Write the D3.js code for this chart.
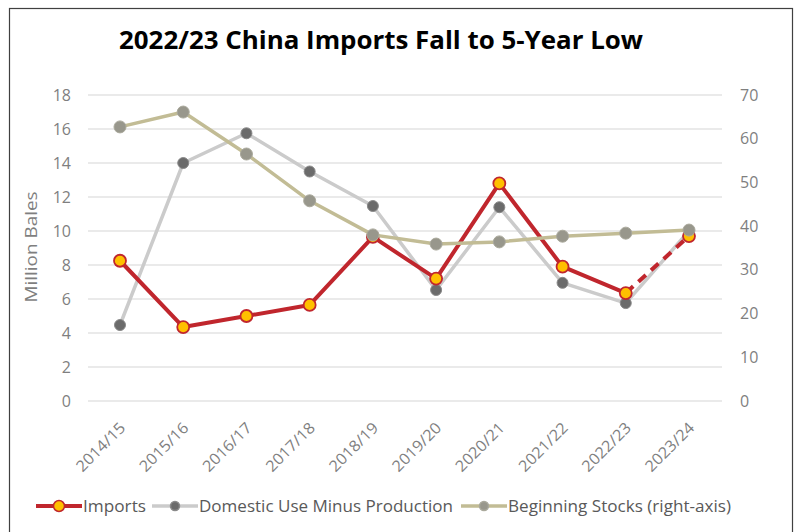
<!DOCTYPE html>
<html><head><meta charset="utf-8">
<script src="https://cdn.jsdelivr.net/npm/d3@7"></script>
<style>body{margin:0;background:#fff}svg{display:block}</style>
</head><body>
<svg id="c" width="801" height="532"></svg>
<script>
const categories = ["2014/15","2015/16","2016/17","2017/18","2018/19","2019/20","2020/21","2021/22","2022/23","2023/24"];
const imports = [8.25, 4.35, 5.0, 5.65, 9.65, 7.2, 12.8, 7.9, 6.35, 9.7];
const domesticMinusProd = [4.47, 14.0, 15.75, 13.5, 11.47, 6.53, 11.4, 6.95, 5.76, 10.0];
const beginningStocks = [62.7, 66.1, 56.5, 45.8, 38.0, 35.9, 36.4, 37.7, 38.4, 39.1];
const leftTicks = [0,2,4,6,8,10,12,14,16,18];
const rightTicks = [0,10,20,30,40,50,60,70];
const title = "2022/23 China Imports Fall to 5-Year Low";
const seriesNames = ["Imports","Domestic Use Minus Production","Beginning Stocks (right-axis)"];

const svg = d3.select("#c");
const font = "'Open Sans', 'Liberation Sans', sans-serif";
const grayText = "#7f7f7f";

// frame
svg.append("rect").attr("x",9.5).attr("y",8.5).attr("width",783).attr("height",540)
  .attr("fill","none").attr("stroke","#404040").attr("stroke-width",1.2);

const x = d3.scalePoint().domain(categories).range([120, 689]);
const yL = d3.scaleLinear().domain([0,18]).range([401, 95]);
const yR = d3.scaleLinear().domain([0,70]).range([401, 95]);

// grid
svg.append("g").selectAll("line").data(leftTicks).join("line")
  .attr("x1",88).attr("x2",722).attr("y1",d=>yL(d)).attr("y2",d=>yL(d))
  .attr("stroke","#e3e3e3").attr("stroke-width",1.5);

// left axis
const gL = svg.append("g").attr("transform","translate(71,0)")
  .call(d3.axisLeft(yL).tickValues(leftTicks).tickSize(0).tickPadding(0));
gL.select(".domain").remove();
gL.selectAll("text").attr("font-family",font).attr("font-size",16).attr("fill",grayText);

// right axis
const gR = svg.append("g").attr("transform","translate(740,0)")
  .call(d3.axisRight(yR).tickValues(rightTicks).tickSize(0).tickPadding(0));
gR.select(".domain").remove();
gR.selectAll("text").attr("font-family",font).attr("font-size",16).attr("fill",grayText);

// x axis (rotated labels placed from their start point)
const gX = svg.append("g").attr("transform","translate(0,400)")
  .call(d3.axisBottom(x).tickSize(0).tickPadding(0));
gX.select(".domain").remove();
const labLen = 62, c45 = Math.SQRT1_2;
gX.selectAll(".tick text").attr("font-family",font).attr("font-size",15.5).attr("fill",grayText)
  .attr("text-anchor","start").attr("x",0).attr("y",0).attr("dy","0.35em")
  .attr("textLength",labLen).attr("lengthAdjust","spacingAndGlyphs")
  .attr("transform",`translate(${(2 - labLen*c45).toFixed(2)},${(25 + labLen*c45).toFixed(2)}) rotate(-45)`);

// y title
svg.append("text").attr("transform","translate(31,247) rotate(-90)")
  .attr("text-anchor","middle").attr("dy","0.35em").attr("font-family",font).attr("font-size",17)
  .attr("fill",grayText).attr("textLength",111).attr("lengthAdjust","spacingAndGlyphs").text("Million Bales");

// title
svg.append("text").attr("x",381).attr("y",49).attr("text-anchor","middle")
  .attr("font-family",font).attr("font-weight","bold").attr("font-size",25)
  .attr("fill","#000").attr("textLength",524).attr("lengthAdjust","spacingAndGlyphs").text(title);

const lineL = d3.line().x((d,i)=>x(categories[i])).y(d=>yL(d));
const lineR = d3.line().x((d,i)=>x(categories[i])).y(d=>yR(d));

// domestic use minus production
svg.append("path").datum(domesticMinusProd).attr("d",lineL).attr("fill","none")
  .attr("stroke","#cbcbcb").attr("stroke-width",3.5).attr("stroke-linejoin","round");
svg.append("g").selectAll("circle").data(domesticMinusProd).join("circle")
  .attr("cx",(d,i)=>x(categories[i])).attr("cy",d=>yL(d)).attr("r",5.5)
  .attr("fill","#6b6b6b").attr("stroke","#8a8a8a").attr("stroke-width",1);

// imports: solid up to 2022/23, dashed to 2023/24
const solidImp = imports.slice(0,9);
svg.append("path").datum(solidImp).attr("d",lineL).attr("fill","none")
  .attr("stroke","#c0262d").attr("stroke-width",4).attr("stroke-linejoin","round");
const dashLine = d3.line().x(d=>x(categories[d])).y(d=>yL(imports[d]));
svg.append("path").datum([8,9]).attr("d",dashLine).attr("fill","none")
  .attr("stroke","#c0262d").attr("stroke-width",4).attr("stroke-dasharray","10,7");
svg.append("g").selectAll("circle").data(imports).join("circle")
  .attr("cx",(d,i)=>x(categories[i])).attr("cy",d=>yL(d)).attr("r",6)
  .attr("fill","#ffc000").attr("stroke","#c0262d").attr("stroke-width",1.8);

// beginning stocks
svg.append("path").datum(beginningStocks).attr("d",lineR).attr("fill","none")
  .attr("stroke","#c2bc95").attr("stroke-width",3.5).attr("stroke-linejoin","round");
svg.append("g").selectAll("circle").data(beginningStocks).join("circle")
  .attr("cx",(d,i)=>x(categories[i])).attr("cy",d=>yR(d)).attr("r",6)
  .attr("fill","#98978c").attr("stroke","#aaa99c").attr("stroke-width",1);

// legend
const leg = svg.append("g").attr("font-family",font).attr("font-size",17).attr("fill","#595959");
const legItems = [
  {x:36, name:seriesNames[0], len:63, line:"#c0262d", lw:4, fill:"#ffc000", stroke:"#c0262d", r:5.5},
  {x:152, name:seriesNames[1], len:254, line:"#cbcbcb", lw:3.5, fill:"#6b6b6b", stroke:"#8a8a8a", r:4.5},
  {x:461, name:seriesNames[2], len:223, line:"#c2bc95", lw:3.5, fill:"#98978c", stroke:"#aaa99c", r:4.5}
];
const legY = 506;
legItems.forEach(it=>{
  leg.append("line").attr("x1",it.x).attr("x2",it.x+46).attr("y1",legY).attr("y2",legY)
    .attr("stroke",it.line).attr("stroke-width",it.lw);
  leg.append("circle").attr("cx",it.x+23).attr("cy",legY).attr("r",it.r)
    .attr("fill",it.fill).attr("stroke",it.stroke).attr("stroke-width",1.5);
  leg.append("text").attr("x",it.x+47).attr("y",legY).attr("dy","0.35em")
    .attr("textLength",it.len).attr("lengthAdjust","spacingAndGlyphs").text(it.name);
});
</script>
</body></html>
